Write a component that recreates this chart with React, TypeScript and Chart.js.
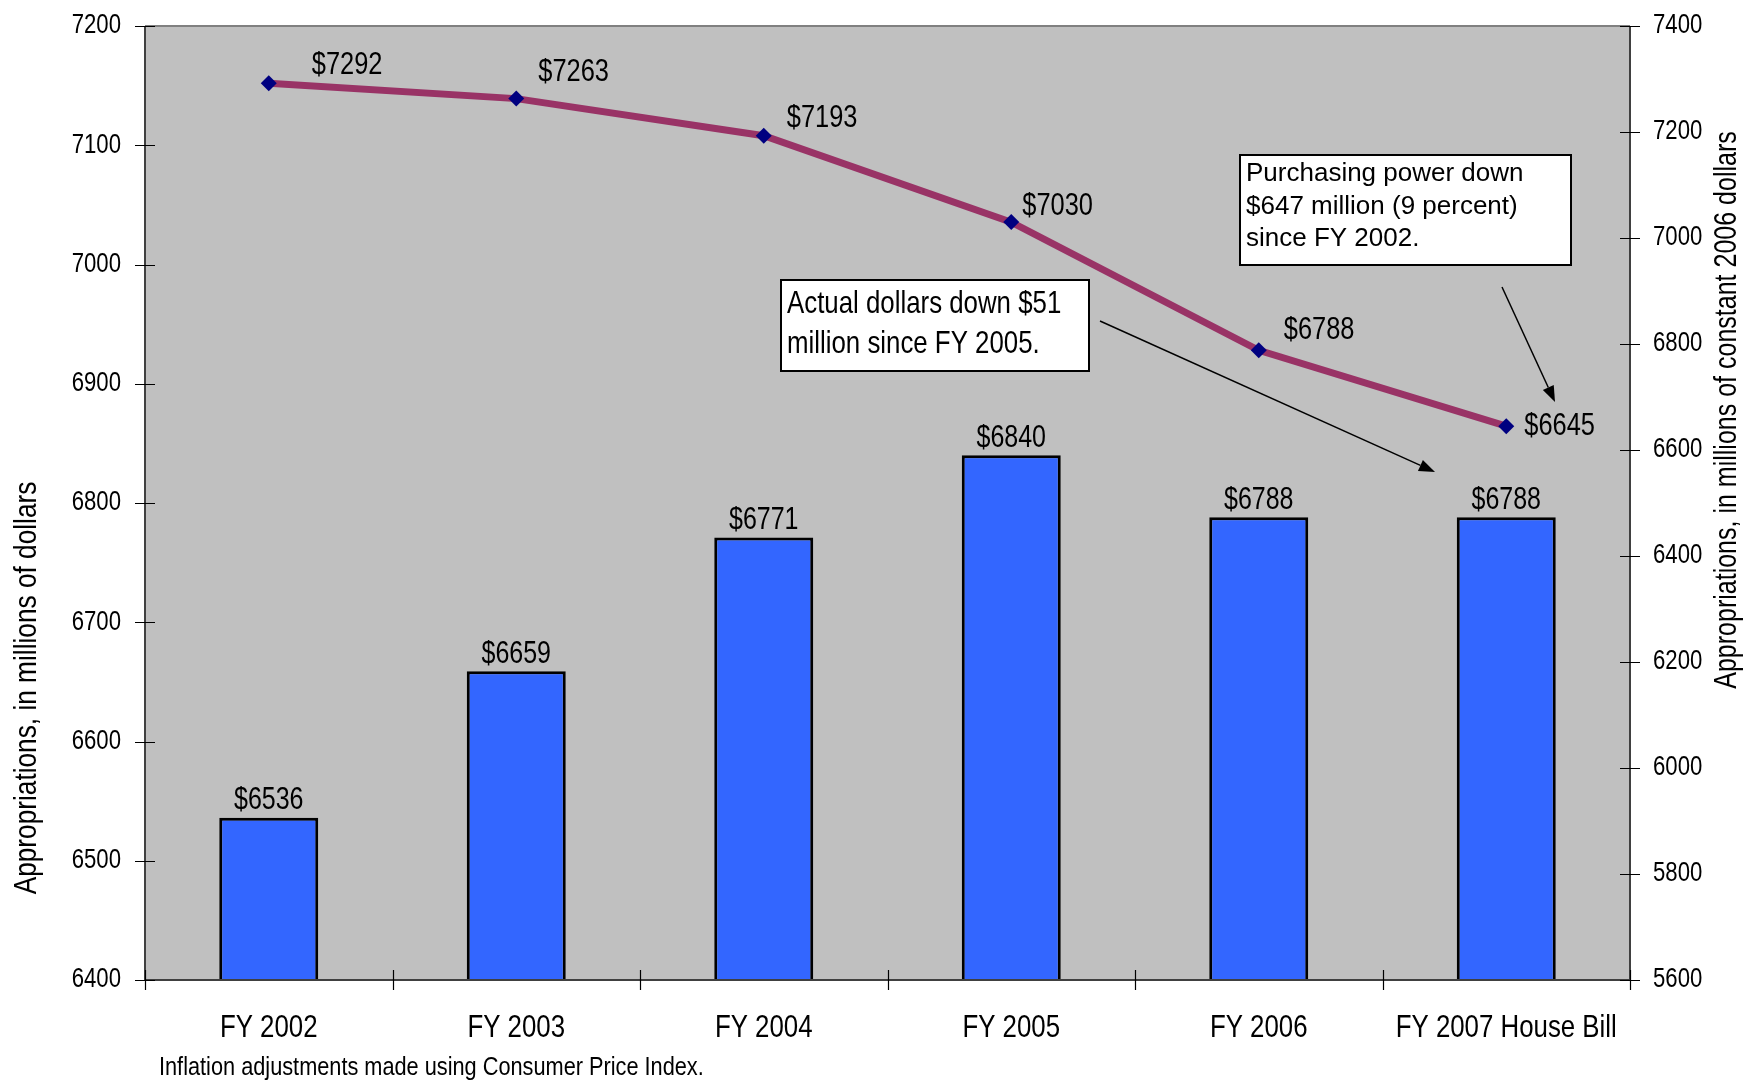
import React, { useEffect, useRef } from "react";
import { Chart, registerables } from "chart.js";

Chart.register(...registerables);

// ---- data ----
const categories = ["FY 2002", "FY 2003", "FY 2004", "FY 2005", "FY 2006", "FY 2007 House Bill"];
const actualDollars = [6536, 6659, 6771, 6840, 6788, 6788];
const constantDollars = [7292, 7263, 7193, 7030, 6788, 6645];
const leftAxisMin = 6400;
const leftAxisMax = 7200;
const leftAxisStep = 100;
const rightAxisMin = 5600;
const rightAxisMax = 7400;
const rightAxisStep = 200;
const leftTitle = "Appropriations, in millions of dollars";
const rightTitle = "Appropriations, in millions of constant 2006 dollars";
const footnote = "Inflation adjustments made using Consumer Price Index.";
const noteActual = ["Actual dollars down $51", "million since FY 2005."];
const notePower = ["Purchasing power down", "$647 million (9 percent)", "since FY 2002."];

// ---- styles ----
const SANS = '"Liberation Sans", Arial, sans-serif';
const NARROW_SCALE = 0.82;
const lineLabelOffsets = [
  [43, -18],
  [22, -26],
  [23, -17],
  [11, -16],
  [25, -20],
  [18, 0],
];

function narrowText(
  ctx: CanvasRenderingContext2D,
  text: string,
  x: number,
  y: number,
  size: number,
  align: CanvasTextAlign,
  baseline: CanvasTextBaseline = "middle",
  rotate = 0
) {
  ctx.save();
  ctx.translate(x, y);
  if (rotate) ctx.rotate(rotate);
  ctx.scale(NARROW_SCALE, 1);
  ctx.font = `${size}px ${SANS}`;
  ctx.textAlign = align;
  ctx.textBaseline = baseline;
  ctx.fillStyle = "#000";
  ctx.fillText(text, 0, 0);
  ctx.restore();
}

function arrow(ctx: CanvasRenderingContext2D, x1: number, y1: number, x2: number, y2: number) {
  const ang = Math.atan2(y2 - y1, x2 - x1);
  const len = 16;
  const hw = 6;
  const bx = x2 - len * Math.cos(ang);
  const by = y2 - len * Math.sin(ang);
  ctx.strokeStyle = "#000";
  ctx.lineWidth = 1.5;
  ctx.beginPath();
  ctx.moveTo(x1, y1);
  ctx.lineTo(bx, by);
  ctx.stroke();
  ctx.fillStyle = "#000";
  ctx.beginPath();
  ctx.moveTo(x2, y2);
  ctx.lineTo(bx + hw * Math.sin(ang), by - hw * Math.cos(ang));
  ctx.lineTo(bx - hw * Math.sin(ang), by + hw * Math.cos(ang));
  ctx.closePath();
  ctx.fill();
}

const decorPlugin = {
  id: "decor",
  beforeDraw(chart: any) {
    const { ctx, chartArea: a, width, height } = chart;
    ctx.save();
    ctx.fillStyle = "#ffffff";
    ctx.fillRect(0, 0, width, height);
    ctx.fillStyle = "#C0C0C0";
    ctx.fillRect(a.left, a.top, a.right - a.left, a.bottom - a.top);
    ctx.restore();
  },
  afterDatasetsDraw(chart: any) {
    const { ctx, chartArea: a, scales } = chart;
    ctx.save();

    // frame
    ctx.strokeStyle = "#808080";
    ctx.lineWidth = 2;
    ctx.beginPath();
    ctx.moveTo(a.left, a.top);
    ctx.lineTo(a.right, a.top);
    ctx.stroke();

    ctx.strokeStyle = "#404040";
    ctx.lineWidth = 2;
    ctx.beginPath();
    ctx.moveTo(a.left, a.top);
    ctx.lineTo(a.left, a.bottom);
    ctx.moveTo(a.right, a.top);
    ctx.lineTo(a.right, a.bottom);
    ctx.moveTo(a.left, a.bottom);
    ctx.lineTo(a.right, a.bottom);
    ctx.stroke();

    // ticks
    ctx.strokeStyle = "#000";
    ctx.lineWidth = 1.2;
    ctx.beginPath();
    for (let v = leftAxisMin; v <= leftAxisMax; v += leftAxisStep) {
      const y = Math.round(scales.y.getPixelForValue(v)) + 0.5;
      ctx.moveTo(a.left - 10, y);
      ctx.lineTo(a.left + 10, y);
    }
    for (let v = rightAxisMin; v <= rightAxisMax; v += rightAxisStep) {
      const y = Math.round(scales.y1.getPixelForValue(v)) + 0.5;
      ctx.moveTo(a.right - 10, y);
      ctx.lineTo(a.right + 10, y);
    }
    for (let i = 0; i <= categories.length; i++) {
      const x = Math.round(scales.x.getPixelForValue(i - 0.5)) + 0.5;
      ctx.moveTo(x, a.bottom - 10);
      ctx.lineTo(x, a.bottom + 10);
    }
    ctx.stroke();

    // tick labels
    for (let v = leftAxisMin; v <= leftAxisMax; v += leftAxisStep) {
      narrowText(ctx, String(v), a.left - 24, scales.y.getPixelForValue(v), 27, "right");
    }
    for (let v = rightAxisMin; v <= rightAxisMax; v += rightAxisStep) {
      narrowText(ctx, String(v), a.right + 23, scales.y1.getPixelForValue(v), 27, "left");
    }
    categories.forEach((c, i) => {
      narrowText(ctx, c, scales.x.getPixelForValue(i), a.bottom + 48, 31.5, "center");
    });

    // bar value labels
    const barMeta = chart.getDatasetMeta(0);
    barMeta.data.forEach((el: any, i: number) => {
      narrowText(ctx, "$" + actualDollars[i], el.x, el.y - 17, 30.5, "center");
    });

    // line value labels
    const lineMeta = chart.getDatasetMeta(1);
    lineMeta.data.forEach((el: any, i: number) => {
      const [dx, dy] = lineLabelOffsets[i];
      narrowText(ctx, "$" + constantDollars[i], el.x + dx, el.y + dy, 31, "left");
    });

    // axis titles
    narrowText(ctx, leftTitle, 27, 688, 32, "center", "middle", -Math.PI / 2);
    narrowText(ctx, rightTitle, 1728, 410, 30.5, "center", "middle", -Math.PI / 2);

    // footnote
    narrowText(ctx, footnote, 159, 1068, 26.5, "left");

    // annotation 1
    ctx.fillStyle = "#fff";
    ctx.fillRect(781, 280, 308, 91);
    ctx.strokeStyle = "#000";
    ctx.lineWidth = 2;
    ctx.strokeRect(781, 280, 308, 91);
    narrowText(ctx, noteActual[0], 787, 313, 31.5, "left", "alphabetic");
    narrowText(ctx, noteActual[1], 787, 353, 31.5, "left", "alphabetic");
    arrow(ctx, 1100, 321, 1435, 472);

    // annotation 2
    ctx.fillStyle = "#fff";
    ctx.fillRect(1240, 155, 331, 110);
    ctx.strokeStyle = "#000";
    ctx.lineWidth = 2;
    ctx.strokeRect(1240, 155, 331, 110);
    ctx.fillStyle = "#000";
    ctx.font = `26px ${SANS}`;
    ctx.textAlign = "left";
    ctx.textBaseline = "alphabetic";
    notePower.forEach((t, i) => ctx.fillText(t, 1246, 181 + i * 32.5));
    arrow(ctx, 1502, 287, 1555, 402);

    ctx.restore();
  },
};

export default function App() {
  const ref = useRef<HTMLCanvasElement | null>(null);
  useEffect(() => {
    document.body.style.margin = "0";
    const canvas = ref.current!;
    const chart = new Chart(canvas, {
      type: "bar",
      data: {
        labels: categories,
        datasets: [
          {
            type: "bar",
            data: actualDollars,
            backgroundColor: "#3366FF",
            borderColor: "#000000",
            borderWidth: 3,
            borderSkipped: false,
            barPercentage: 0.4,
            categoryPercentage: 1,
            yAxisID: "y",
            order: 2,
          } as any,
          {
            type: "line",
            data: constantDollars,
            borderColor: "#993366",
            borderWidth: 7,
            pointStyle: "rectRot",
            pointRadius: 8,
            pointBackgroundColor: "#000080",
            pointBorderColor: "#000080",
            pointBorderWidth: 0,
            tension: 0,
            yAxisID: "y1",
            order: 1,
          } as any,
        ],
      },
      options: {
        animation: false,
        responsive: false,
        devicePixelRatio: 1,
        layout: { padding: { top: 26, left: 0, right: 0, bottom: 0 } },
        plugins: { legend: { display: false }, tooltip: { enabled: false } },
        scales: {
          x: {
            type: "category",
            grid: { display: false, drawTicks: false },
            border: { display: false },
            ticks: { display: false },
            afterFit(s: any) {
              s.height = 102;
              s.paddingLeft = 0;
              s.paddingRight = 0;
            },
          },
          y: {
            position: "left",
            min: leftAxisMin,
            max: leftAxisMax,
            grid: { display: false, drawTicks: false },
            border: { display: false },
            ticks: { display: false, stepSize: leftAxisStep },
            afterFit(s: any) {
              s.width = 145;
              s.paddingTop = 0;
              s.paddingBottom = 0;
            },
          },
          y1: {
            position: "right",
            min: rightAxisMin,
            max: rightAxisMax,
            grid: { display: false, drawTicks: false },
            border: { display: false },
            ticks: { display: false, stepSize: rightAxisStep },
            afterFit(s: any) {
              s.width = 117;
              s.paddingTop = 0;
              s.paddingBottom = 0;
            },
          },
        },
      } as any,
      plugins: [decorPlugin],
    });
    return () => chart.destroy();
  }, []);
  return (
    <div style={{ width: 1747, height: 1082, position: "relative" }}>
      <canvas ref={ref} width={1747} height={1082} style={{ display: "block" }} />
    </div>
  );
}
